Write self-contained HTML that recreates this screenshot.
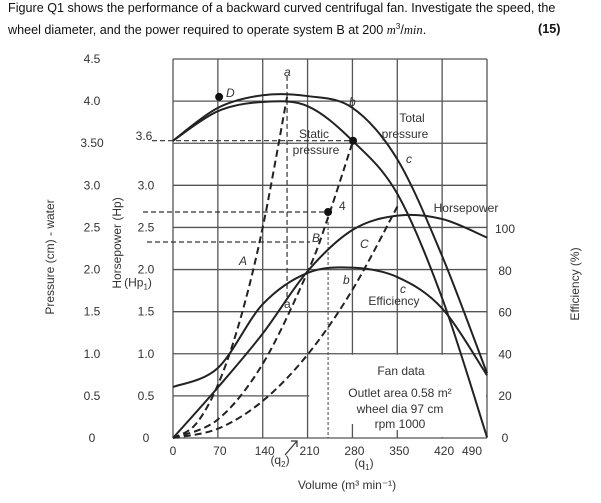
<!DOCTYPE html>
<html><head><meta charset="utf-8">
<style>
body{margin:0;background:#fff;width:601px;height:503px;overflow:hidden;font-family:"Liberation Sans",sans-serif}
.hd{position:absolute;left:8px;font-size:12.6px;color:#111;white-space:nowrap}
svg text{font-family:"Liberation Sans",sans-serif;fill:#333}
</style></head><body>
<div class="hd" style="top:1px">Figure Q1 shows the performance of a backward curved centrifugal fan. Investigate the speed, the</div>
<div class="hd" style="top:22px">wheel diameter, and the power required to operate system B at 200 <i style="font-family:'Liberation Serif',serif">m</i><sup style="font-size:8px">3</sup>/<i style="font-family:'Liberation Serif',serif">min</i>.</div>
<div class="hd" style="top:22px;left:538px;font-weight:bold">(15)</div>
<svg id="chart" width="601" height="503" style="position:absolute;left:0;top:0"></svg>
<script>
const xTicks=[0,70,140,210,280,350,420,490];
const pTicks=[0,0.5,1.0,1.5,2.0,2.5,3.0,3.5,4.0,4.5];
const pTickLabels=["0","0.5","1.0","1.5","2.0","2.5","3.0","3.50","4.0","4.5"];
const hpTickLabels=["0","0.5","1.0","1.5","2.0","2.5","3.0"];
const effTicks=[0,20,40,60,80,100];
const totalU=[0,70,140,210,280,350,420,490];
const totalP=[3.53,3.92,4.07,4.06,3.92,3.31,2.16,0.77];
const staticU=[0,70,140,210,280,350,420,490];
const staticP=[3.53,3.88,3.99,3.94,3.53,2.9,1.66,0.01];
const hpU=[0,70,140,210,280,350,420,490];
const hpP=[0,0.6,1.24,1.98,2.47,2.64,2.6,2.38];
const effU=[0,70,140,210,280,350,420,490];
const effV=[24.4,33.5,64,79,81.5,77,62,30];
const sysAU=[0,35,70,105,140,178];
const sysAP=[0,0.16,0.63,1.41,2.5,4.05];
const sysBU=[0,70,140,210,242,281];
const sysBP=[0,0.22,0.88,1.97,2.62,3.53];
const sysCU=[0,70,140,210,280,353];
const sysCP=[0,0.11,0.44,0.99,1.76,2.79];

const L=173,R=487,T=59,B=438;
const X=u=>L+u*(R-L)/490;
const Y=p=>B-p*(B-T)/4.5;
const YE=e=>B-e*(B-229)/100;
const NS="http://www.w3.org/2000/svg";
const svg=document.getElementById('chart');
function mk(tag,at,parent){const e=document.createElementNS(NS,tag);for(const k in at)e.setAttribute(k,at[k]);(parent||svg).appendChild(e);return e;}
function smooth(pts){let d=`M${pts[0][0]},${pts[0][1]}`;for(let i=0;i<pts.length-1;i++){const p0=pts[i-1]||pts[i],p1=pts[i],p2=pts[i+1],p3=pts[i+2]||p2;const c1=[p1[0]+(p2[0]-p0[0])/6,p1[1]+(p2[1]-p0[1])/6],c2=[p2[0]-(p3[0]-p1[0])/6,p2[1]-(p3[1]-p1[1])/6];d+=`C${c1[0]},${c1[1]} ${c2[0]},${c2[1]} ${p2[0]},${p2[1]}`;}return d;}
function txt(s,x,y,o){const t=mk('text',Object.assign({x:x,y:y,'font-size':12},o||{}));t.textContent=s;return t;}

const grid=mk('g',{stroke:'#555','stroke-width':1.3});


xTicks.forEach(u=>mk('line',{x1:X(u),x2:X(u),y1:T,y2:B},grid));
pTicks.forEach(p=>mk('line',{x1:L,x2:R,y1:Y(p),y2:Y(p)},grid));
const box=mk('rect',{x:X(211)+1,y:Y(1.0)+1,width:R-X(211)-2,height:B-Y(1.0)-2,fill:'#fff'});


mk('line',{x1:X(280),x2:X(280),y1:B-14,y2:B,stroke:'#555','stroke-width':1.3});
mk('line',{x1:X(350),x2:X(350),y1:B-8,y2:B,stroke:'#555','stroke-width':1.3});

const dsh={stroke:'#333','stroke-width':1.2,'stroke-dasharray':'5,3',fill:'none'};
mk('line',Object.assign({x1:152,x2:X(281),y1:Y(3.53),y2:Y(3.53)},dsh));
mk('line',Object.assign({x1:143,x2:X(242),y1:212,y2:212},dsh));
mk('line',Object.assign({x1:147,x2:X(214),y1:242,y2:242},dsh));
mk('line',Object.assign({x1:X(178),x2:X(178),y1:Y(4.3),y2:300},dsh));
mk('line',{x1:X(242),x2:X(242),y1:212,y2:B,stroke:'#444','stroke-width':1,'stroke-dasharray':'3,2'});

function curve(us,vs,yf,name,dash){const pts=us.map((u,i)=>[X(u),yf(vs[i])]);const p=mk('path',{d:smooth(pts),fill:'none',stroke:'#222','stroke-width':2});if(dash)p.setAttribute('stroke-dasharray','7,4');return p;}
curve(totalU,totalP,Y,'total-pressure-curve');
curve(staticU,staticP,Y,'static-pressure-curve');
curve(hpU,hpP,Y,'horsepower-curve');
curve(effU,effV,YE,'efficiency-curve');
curve(sysAU,sysAP,Y,'system-a-curve',true);
curve(sysBU,sysBP,Y,'system-b-curve',true);
curve(sysCU,sysCP,Y,'system-c-curve',true);

mk('circle',{cx:X(72),cy:Y(4.05),r:4,fill:'#111'});
mk('circle',{cx:X(281),cy:Y(3.53),r:4,fill:'#111'});
mk('circle',{cx:X(242),cy:212,r:4,fill:'#111'});

pTicks.forEach((p,i)=>txt(pTickLabels[i],92,Y(p)+4,{'text-anchor':'middle'}));
hpTickLabels.forEach((s,i)=>txt(s,146,Y(i*0.5)+4,{'text-anchor':'middle'}));
txt('3.6',144,Y(3.6)+5,{'text-anchor':'middle'});
txt('(Hp',138,Y(2.0)+17,{'text-anchor':'middle'}).innerHTML='(Hp<tspan font-size="8" dy="3">1</tspan><tspan dy="-3">)</tspan>';
effTicks.forEach(e=>txt(String(e),505,YE(e)+4,{'text-anchor':'middle'}));
xTicks.forEach((u,i)=>{if(i<7)txt(String(u),X(u)+(i==0?0:2),B+17,{'text-anchor':'middle'})});
txt('490',472,B+17,{'text-anchor':'middle'});
txt('(q',280,B+26,{'text-anchor':'middle'}).innerHTML='(q<tspan font-size="8" dy="3">2</tspan><tspan dy="-3">)</tspan>';
txt('(q',364,B+29,{'text-anchor':'middle'}).innerHTML='(q<tspan font-size="8" dy="3">1</tspan><tspan dy="-3">)</tspan>';
mk('path',{d:'M285,455 L297,441 M291,441 L297,441 L297,447',stroke:'#333',fill:'none','stroke-width':1.2});
txt('Volume (m³ min⁻¹)',347,489,{'text-anchor':'middle'});
txt('Pressure (cm) - water',0,0,{transform:'translate(54,257) rotate(-90)','text-anchor':'middle'});
txt('Horsepower (Hp)',0,0,{transform:'translate(121,243) rotate(-90)','text-anchor':'middle'});
txt('Efficiency (%)',0,0,{transform:'translate(579,284) rotate(-90)','text-anchor':'middle'});

const it={'font-style':'italic'};
txt('D',226,97,it);txt('a',284,76,it);txt('b',349,106,it);txt('c',406,163,it);
txt('4',339,210);txt('A',239,265,it);txt('B',312,242,it);txt('C',360,248,it);
txt('b',343,284,it);txt('a',284,308);txt('c',400,293,it);
txt('Total',412,122,{'text-anchor':'middle'});txt('pressure',405,138,{'text-anchor':'middle'});
txt('Static',314,138,{'text-anchor':'middle'});txt('pressure',316,154,{'text-anchor':'middle'});
txt('Horsepower',466,212,{'text-anchor':'middle'});txt('Efficiency',394,305,{'text-anchor':'middle'});
txt('Fan data',401,375,{'text-anchor':'middle'});
txt('Outlet area 0.58 m²',400,397,{'text-anchor':'middle'});
txt('wheel dia 97 cm',400,413,{'text-anchor':'middle'});
txt('rpm 1000',400,428,{'text-anchor':'middle'});
</script>
</body></html>
